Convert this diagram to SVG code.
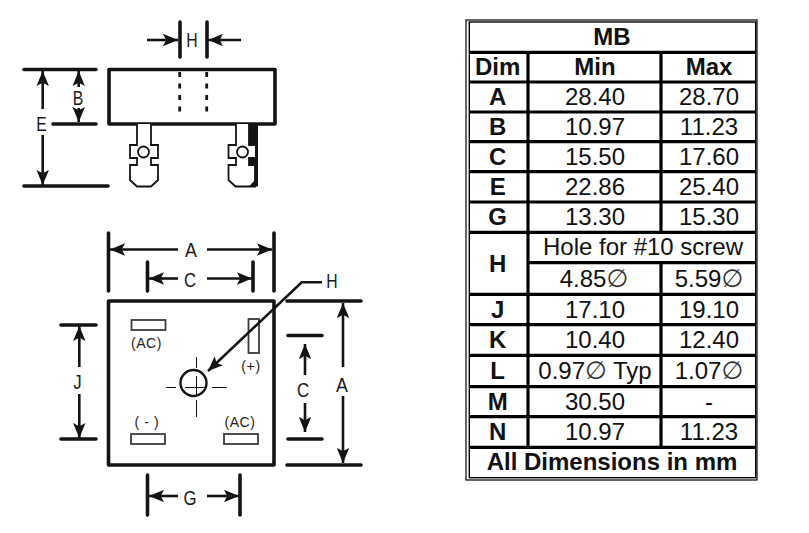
<svg xmlns="http://www.w3.org/2000/svg" width="809" height="533" viewBox="0 0 809 533">
<style>
.ext{stroke:#141414;stroke-width:3.6;stroke-linecap:round;fill:none}
.dim{stroke:#141414;stroke-width:2.6;fill:none;marker-end:url(#arr)}
.body{stroke:#141414;stroke-width:3.6;fill:none;stroke-linejoin:round}
.pin{stroke:#141414;stroke-width:1.8;fill:#fff;stroke-linejoin:miter}
.pad{stroke:#3c3c3c;stroke-width:1.8;fill:#fff}
.thin{stroke:#141414;stroke-width:1;fill:none}
.lab{font-family:"Liberation Sans",Arial,sans-serif;font-size:21px;fill:#1a1a1a;text-anchor:middle}
.small{font-family:"Liberation Sans",Arial,sans-serif;font-size:14px;fill:#222;text-anchor:middle;letter-spacing:.6px}
.grid{stroke:#000;stroke-width:3.2;fill:none}
.t{font-family:"Liberation Sans",Arial,sans-serif;font-size:24px;fill:#111;text-anchor:middle}
.b{font-family:"Liberation Sans",Arial,sans-serif;font-size:24px;font-weight:700;fill:#111;text-anchor:middle}
.d{font-family:"DejaVu Sans",sans-serif;font-size:25px;fill:#333}
</style>
<defs>
<marker id="arr" markerUnits="userSpaceOnUse" markerWidth="15" markerHeight="12.500" refX="14" refY="5.800" orient="auto" viewBox="0 0 14 11.600">
<path d="M0 0L14 5.800L0 11.600L3 5.800Z" fill="#141414"/>
</marker>
</defs>
<rect width="809" height="533" fill="#fff"/>

<g id="side-view">
<rect class="body" x="109" y="69.500" width="166" height="54.500"/>
<path d="M179.700 72V118M206.700 72V118" stroke="#141414" stroke-width="2.800" stroke-dasharray="5 6.500" fill="none"/>
<g id="pin-left">
<path class="pin" d="M137 124V145H130V158H137V165H130V180L137 186.500H151L158 180V165H151V158H158V145H151V124"/>
<circle class="pin" cx="143.500" cy="152" r="5.500"/>
</g>
<g id="pin-right">
<path class="pin" d="M236 124V145H228.500V158H236V165H228.500V180L235.500 186.500H255V165H249V158H255V145H249V124"/>
<path d="M249 124H258V186.500H249L255 180V165H249V158H255V145H249Z" fill="#141414"/>
<path d="M250 146H255V157H250Z" fill="#fff"/>
<circle class="pin" cx="242.500" cy="152" r="5.500"/>
</g>
</g>

<g id="bottom-view">
<rect class="body" x="108.500" y="301" width="165.500" height="164"/>
<rect class="pad" x="131.500" y="320" width="34" height="10"/>
<rect class="pad" x="248.500" y="319" width="10.500" height="34"/>
<rect class="pad" x="131" y="434" width="34" height="10"/>
<rect class="pad" x="224" y="434" width="34" height="10"/>
<circle cx="193.500" cy="383" r="13" fill="none" stroke="#141414" stroke-width="2.400"/>
<path class="thin" d="M166 387.500H176M185 387.500H207M212 387.500H227M196.500 357V368M196.500 376V396M196.500 400V417"/>
<text class="small" x="146.500" y="348">(AC)</text>
<text class="small" x="251" y="371">(+)</text>
<text class="small" x="147" y="427">( - )</text>
<text class="small" x="240" y="427">(AC)</text>
</g>

<g id="connectors">
<path class="ext" d="M180 22V57M207 22V57M24 69.500H96M53 124H96M24 186H108"/>
<path class="dim" d="M147 40H178"/>
<path class="dim" d="M241 40H208"/>
<path class="dim" d="M42.700 109V71"/>
<path class="dim" d="M42.700 135V185"/>
<path class="dim" d="M78.700 87V71"/>
<path class="dim" d="M78.700 108V122"/>
<path class="ext" d="M108.500 233V291M274 233V291M147.500 262V291M253 262V291M287 301H361M287 465H361M288 335.500H322M288 439H322M61 325H96M61 439H96M147.500 475V515M240 475V515"/>
<path class="dim" d="M178 249.500H110"/>
<path class="dim" d="M207 249.500H272"/>
<path class="dim" d="M178 278.500H149"/>
<path class="dim" d="M207 278.500H252"/>
<path class="dim" d="M178 496H149"/>
<path class="dim" d="M207 496H239"/>
<path class="dim" d="M343 367V303"/>
<path class="dim" d="M343 396V463"/>
<path class="dim" d="M305 375V344"/>
<path class="dim" d="M305 403V432"/>
<path class="dim" d="M79.300 367V326"/>
<path class="dim" d="M79.300 394V438"/>
<path class="dim" d="M322 282.300H301.700L208 371"/>
</g>

<g id="dimension-labels">
<text class="lab" transform="translate(192 47) scale(.75 1)">H</text>
<text class="lab" transform="translate(78 104.500) scale(.75 1)">B</text>
<text class="lab" transform="translate(41.500 131) scale(.75 1)">E</text>
<text class="lab" transform="translate(191 257) scale(.85 1)">A</text>
<text class="lab" transform="translate(190 287) scale(.8 1)">C</text>
<text class="lab" transform="translate(332 287.500) scale(.75 1)">H</text>
<text class="lab" transform="translate(342 391.500) scale(.85 1)">A</text>
<text class="lab" transform="translate(303 397) scale(.8 1)">C</text>
<text class="lab" transform="translate(77.500 389) scale(.8 1)">J</text>
<text class="lab" transform="translate(190 505) scale(.8 1)">G</text>
</g>

<g id="table">
<rect x="466" y="20" width="291" height="460" fill="none" stroke="#000" stroke-width="1.200"/>
<rect x="469.300" y="22" width="286.400" height="455.700" fill="none" stroke="#000" stroke-width="1.400"/>
<path class="grid" d="M470 52.300H755M470 82H755M470 112H755M470 141.700H755M470 171.700H755M470 202H755M470 232.300H755M528 262.700H755M470 294.300H755M470 324.700H755M470 355.300H755M470 386.700H755M470 416.700H755M470 447.300H755M528 52V447M661 52V232M661 263V447"/>
<text class="b" x="612" y="45">MB</text>
<text class="b" x="497.700" y="75">Dim</text>
<text class="b" x="595" y="75">Min</text>
<text class="b" x="709" y="75">Max</text>
<text class="b" x="497.700" y="105">A</text>
<text class="t" x="595" y="105">28.40</text>
<text class="t" x="709" y="105">28.70</text>
<text class="b" x="497.700" y="134.500">B</text>
<text class="t" x="595" y="135">10.97</text>
<text class="t" x="709" y="135">11.23</text>
<text class="b" x="497.700" y="165">C</text>
<text class="t" x="595" y="165">15.50</text>
<text class="t" x="709" y="165">17.60</text>
<text class="b" x="497.700" y="195">E</text>
<text class="t" x="595" y="195">22.86</text>
<text class="t" x="709" y="195">25.40</text>
<text class="b" x="497.700" y="225">G</text>
<text class="t" x="595" y="225">13.30</text>
<text class="t" x="709" y="225">15.30</text>
<text class="t" x="643" y="255">Hole for #10 screw</text>
<text class="b" x="497.700" y="272">H</text>
<text class="t" x="594" y="286.500">4.85<tspan class="d">∅</tspan></text>
<text class="t" x="709" y="286.500">5.59<tspan class="d">∅</tspan></text>
<text class="b" x="497.700" y="317.500">J</text>
<text class="t" x="595" y="317.500">17.10</text>
<text class="t" x="709" y="317.500">19.10</text>
<text class="b" x="497.700" y="347.500">K</text>
<text class="t" x="595" y="347.500">10.40</text>
<text class="t" x="709" y="347.500">12.40</text>
<text class="b" x="497.700" y="379">L</text>
<text class="t" x="595" y="379">0.97<tspan class="d">∅</tspan> Typ</text>
<text class="t" x="709" y="379">1.07<tspan class="d">∅</tspan></text>
<text class="b" x="497.700" y="410">M</text>
<text class="t" x="595" y="410">30.50</text>
<text class="t" x="709" y="410">-</text>
<text class="b" x="497.700" y="440">N</text>
<text class="t" x="595" y="440">10.97</text>
<text class="t" x="709" y="440">11.23</text>
<text class="b" x="612" y="469.500">All Dimensions in mm</text>
</g>
</svg>
